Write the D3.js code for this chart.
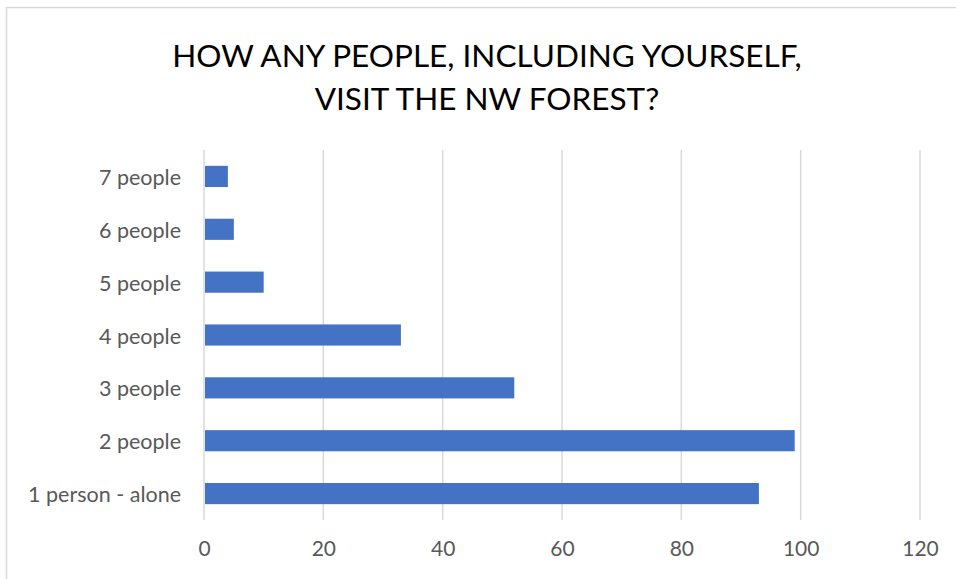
<!DOCTYPE html>
<html>
<head>
<meta charset="utf-8">
<script src="https://cdn.jsdelivr.net/npm/d3@7"></script>
<style>
  html, body { margin: 0; padding: 0; background: #fff; }
  svg { display: block; }
  text { font-family: Lato, "Open Sans", sans-serif; }
</style>
</head>
<body>
<svg id="chart" width="956" height="579"></svg>
<script>
// Survey responses: group size per visit
const categories = ["1 person - alone", "2 people", "3 people", "4 people", "5 people", "6 people", "7 people"];
const counts = [93, 99, 52, 33, 10, 5, 4];
const xTicks = [0, 20, 40, 60, 80, 100, 120];
const titleLines = ["HOW ANY PEOPLE, INCLUDING YOURSELF,", "VISIT THE NW FOREST?"];

const svg = d3.select("#chart");
const W = 956, H = 579;
const plot = { left: 204, right: 920, top: 150, bottom: 520 };

// chart frame
svg.append("rect")
  .attr("x", 6.5).attr("y", 7.5)
  .attr("width", W + 10).attr("height", H + 10)
  .attr("fill", "#fff").attr("stroke", "#d9d9d9").attr("stroke-width", 1.5);

// title
svg.append("g").selectAll("text")
  .data(titleLines)
  .join("text")
  .attr("x", 487)
  .attr("y", (d, i) => 67 + i * 43)
  .attr("text-anchor", "middle")
  .attr("font-size", 31.5)
  .attr("fill", "#000")
  .text(d => d);

const x = d3.scaleLinear().domain([0, 120]).range([plot.left, plot.right]);
const y = d3.scaleBand()
  .domain(categories.slice().reverse())
  .range([plot.top, plot.bottom])
  .paddingInner(0.6)
  .paddingOuter(0.3);

// vertical gridlines
svg.append("g").selectAll("line")
  .data(xTicks)
  .join("line")
  .attr("x1", d => x(d)).attr("x2", d => x(d))
  .attr("y1", plot.top).attr("y2", plot.bottom)
  .attr("stroke", "#d9d9d9").attr("stroke-width", 1.5);

// bars
svg.append("g").selectAll("rect")
  .data(categories.map((c, i) => ({ c, v: counts[i] })))
  .join("rect")
  .attr("x", x(0) + 1)
  .attr("y", d => y(d.c))
  .attr("width", d => x(d.v) - x(0) - 1)
  .attr("height", y.bandwidth())
  .attr("fill", "#4472c4");

// x axis labels
const xAxis = d3.axisBottom(x).tickValues(xTicks).tickSize(0).tickPadding(21);
const gx = svg.append("g").attr("transform", `translate(0,${plot.bottom})`).call(xAxis);
gx.select(".domain").remove();
gx.selectAll("text").attr("font-size", 21).attr("fill", "#595959")
  .attr("font-family", "Lato, 'Open Sans', sans-serif");

// y axis labels
const yAxis = d3.axisLeft(y).tickSize(0).tickPadding(23);
const gy = svg.append("g").attr("transform", `translate(${plot.left},0)`).call(yAxis);
gy.select(".domain").remove();
gy.selectAll("text").attr("font-size", 21.5).attr("fill", "#595959")
  .attr("dy", "0.4em")
  .attr("font-family", "Lato, 'Open Sans', sans-serif");
</script>
</body>
</html>
